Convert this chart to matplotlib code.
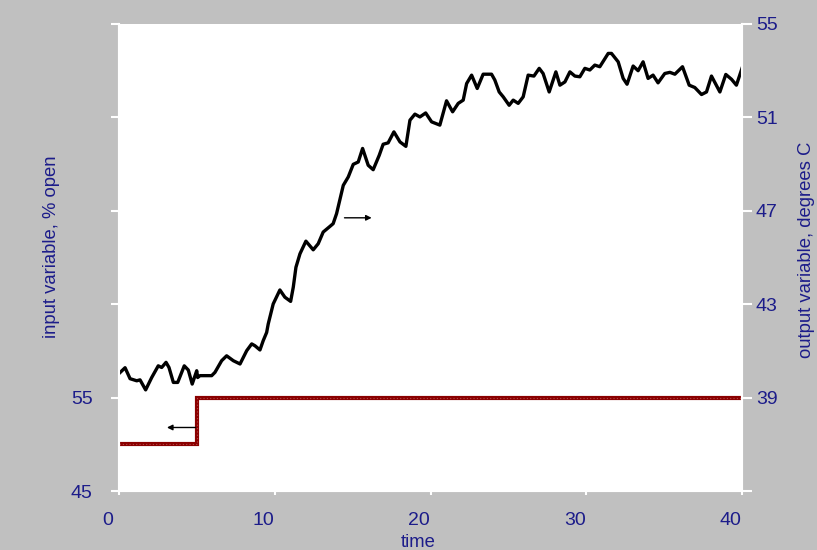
import matplotlib.pyplot as plt
import matplotlib.transforms as mtransforms

# step input (valve position, % open)
in_time = [0, 5, 5, 40]
in_value = [50, 50, 55, 55]

# measured output temperature, degrees C
out_time = [0.00, 0.39, 0.71, 1.14, 1.35, 1.71, 2.10, 2.52, 2.74, 3.02, 3.21, 3.49,
            3.77, 4.19, 4.45, 4.70, 4.99, 5.05, 5.20, 5.95, 6.16, 6.59, 6.91, 7.34,
            7.77, 8.20, 8.52, 8.73, 9.05, 9.26, 9.48, 9.58, 9.90, 10.33, 10.65, 11.02,
            11.19, 11.36, 11.62, 12.00, 12.47, 12.79, 13.11, 13.54, 13.75, 13.97, 14.40,
            14.72, 15.04, 15.36, 15.64, 16.00, 16.32, 16.71, 16.96, 17.28, 17.65, 18.04,
            18.42, 18.68, 19.00, 19.32, 19.69, 20.07, 20.60, 21.03, 21.42, 21.78, 22.10,
            22.32, 22.64, 23.00, 23.38, 23.92, 24.13, 24.41, 24.67, 25.05, 25.31, 25.63,
            25.95, 26.27, 26.64, 26.98, 27.23, 27.62, 28.05, 28.31, 28.63, 28.95, 29.27,
            29.59, 29.91, 30.23, 30.55, 30.87, 31.41, 31.62, 32.05, 32.37, 32.62, 33.01,
            33.33, 33.65, 33.97, 34.29, 34.61, 35.04, 35.37, 35.69, 36.18, 36.61, 36.97,
            37.40, 37.72, 38.04, 38.58, 38.96, 39.33, 39.64, 40.00]
out_value = [40.03, 40.28, 39.81, 39.72, 39.76, 39.33, 39.86, 40.36, 40.29, 40.51, 40.29, 39.65,
             39.65, 40.36, 40.18, 39.58, 40.15, 39.86, 39.94, 39.94, 40.08, 40.58, 40.79, 40.58,
             40.44, 41.01, 41.30, 41.22, 41.04, 41.44, 41.79, 42.15, 43.01, 43.61, 43.30, 43.12,
             43.73, 44.58, 45.16, 45.70, 45.33, 45.59, 46.09, 46.33, 46.45, 46.88, 48.09,
             48.45, 48.99, 49.09, 49.67, 48.95, 48.76, 49.38, 49.85, 49.91, 50.38, 49.95,
             49.76, 50.88, 51.14, 51.02, 51.19, 50.81, 50.67, 51.71, 51.24, 51.60, 51.74,
             52.45, 52.81, 52.24, 52.85, 52.85, 52.60, 52.09, 51.88, 51.52, 51.74, 51.60,
             51.88, 52.81, 52.77, 53.10, 52.88, 52.09, 52.95, 52.38, 52.52, 52.95, 52.77,
             52.74, 53.10, 53.03, 53.24, 53.17, 53.74, 53.74, 53.38, 52.67, 52.42, 53.20,
             53.00, 53.38, 52.67, 52.81, 52.48, 52.88, 52.93, 52.85, 53.17, 52.38, 52.28,
             51.98, 52.09, 52.77, 52.09, 52.84, 52.63, 52.38, 53.10]

x_ticks = [0, 10, 20, 30, 40]
left_ticks = [45, 55, 65, 75, 85, 95]
left_labels = ['45', '55', '', '', '', '']
right_ticks = [35, 39, 43, 47, 51, 55]
right_labels = ['', '39', '43', '47', '51', '55']

NAVY = '#1c1c8a'
GREY = '#c0c0c0'
RED = '#8b0000'

plt.rcParams['font.family'] = ['Liberation Sans', 'DejaVu Sans']

fig = plt.figure(figsize=(8.17, 5.5), dpi=100, facecolor=GREY)
ax1 = fig.add_axes([119 / 817, 59 / 550, 623 / 817, 467 / 550])
ax1.set_facecolor('white')
ax2 = ax1.twinx()

ax1.plot(in_time, in_value, color=RED, lw=3, solid_joinstyle='miter')
# faint dotted sheen along the input trace
ax1.plot(in_time, in_value, color='#b04848', lw=0.8, ls=(0, (1, 2)))
ax2.plot(out_time, out_value, color='black', lw=2.4, solid_joinstyle='round')

ax1.set_xlim(0, 40)
ax1.set_ylim(45, 95)
ax2.set_ylim(35, 55)

ax1.set_xticks(x_ticks)
ax1.set_yticks(left_ticks)
ax1.set_yticklabels(left_labels)
ax2.set_yticks(right_ticks)
ax2.set_yticklabels(right_labels)

for ax in (ax1, ax2):
    for s in ax.spines.values():
        s.set_color('white')
        s.set_linewidth(1.5)
    ax.spines['top'].set_visible(False)
    ax.tick_params(colors='white', labelcolor=NAVY, labelsize=14,
                   direction='out', width=1.5)

ax1.tick_params(axis='x', length=3, pad=12)
ax1.tick_params(axis='y', length=6, pad=13)
ax2.tick_params(axis='y', length=7, pad=3)

# x tick labels sit a little left of their ticks
shift = mtransforms.ScaledTranslation(-0.115, 0, fig.dpi_scale_trans)
for lab in ax1.get_xticklabels():
    lab.set_transform(lab.get_transform() + shift)

ax1.set_xlabel('time', color=NAVY, fontsize=13.3)
ax1.xaxis.set_label_coords(0.48, -0.093)
ax1.set_ylabel('input variable, % open', color=NAVY, fontsize=13.3)
ax1.yaxis.set_label_coords(-0.094, 0.524)
ax2.set_ylabel('output variable, degrees C', color=NAVY, fontsize=13.3)
ax2.yaxis.set_label_coords(1.09, 0.517)

# arrows pointing each curve at its own axis
ax1.annotate('', xy=(2.9, 51.8), xytext=(5.1, 51.8),
             arrowprops=dict(arrowstyle='-|>', lw=1, color='black', mutation_scale=8))
ax2.annotate('', xy=(16.4, 46.7), xytext=(14.3, 46.7),
             arrowprops=dict(arrowstyle='-|>', lw=1, color='black', mutation_scale=8))

fig.savefig('out.png', dpi=100, facecolor=GREY)
